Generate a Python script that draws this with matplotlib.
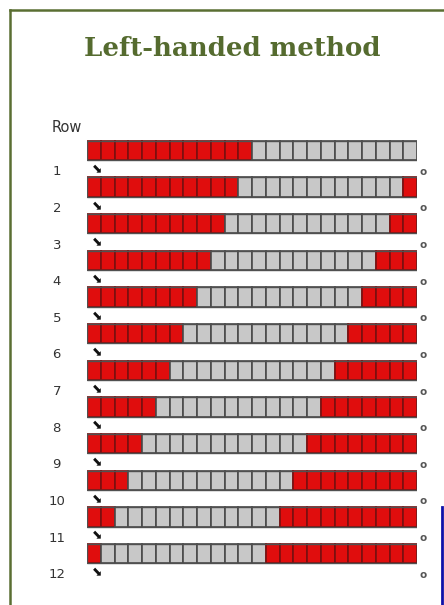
import matplotlib
matplotlib.use("Agg")
import matplotlib.pyplot as plt
from matplotlib.lines import Line2D

# ---- data ----
title = "Left-handed method"
row_numbers = [1, 2, 3, 4, 5, 6, 7, 8, 9, 10, 11, 12]
left_red = [12, 11, 10, 9, 8, 7, 6, 5, 4, 3, 2, 1]
middle_gray = [12, 12, 12, 12, 12, 12, 12, 12, 12, 12, 12, 12]
right_red = [0, 1, 2, 3, 4, 5, 6, 7, 8, 9, 10, 11]
row_header = "Row"

W, H = 444, 605
fig = plt.figure(figsize=(W / 100, H / 100), dpi=100)
fig.patch.set_facecolor("white")

def px(x0, y0, x1, y1):
    return [x0 / W, 1 - y1 / H, (x1 - x0) / W, (y1 - y0) / H]

# axes: x in cells (0..24), y in rows
ax = fig.add_axes(px(87, 132.2, 417, 571.8))
ax.set_xlim(0, 24)
ax.set_ylim(12.5, 0.5)
ax.axis("off")

RED = "#e00d0d"
RED_EDGE = "#7a1010"
GRAY = "#c8c8c8"
GRAY_EDGE = "#4a4a4a"
BAR_H = 0.53

for r, nl, ng, nr in zip(row_numbers, left_red, middle_gray, right_red):
    cells = ["r"] * nl + ["g"] * ng + ["r"] * nr
    xs = list(range(len(cells)))
    cols = [RED if c == "r" else GRAY for c in cells]
    eds = [RED_EDGE if c == "r" else GRAY_EDGE for c in cells]
    ax.bar(xs, [BAR_H] * len(xs), width=1.0, bottom=r - BAR_H / 2,
           align="edge", color=cols, edgecolor=eds, linewidth=1.2)
    ax.bar([0], [BAR_H], width=len(cells), bottom=r - BAR_H / 2, align="edge",
           color="none", edgecolor="#505050", linewidth=1.0)
    ax.text(-2.2, r + 0.58, str(r), ha="center", va="center", fontsize=9.5,
            color="#333333", family="DejaVu Sans")
    ax.text(0.75, r + 0.5, "\u2b0a", ha="center", va="center", fontsize=9,
            color="#111111", family="DejaVu Sans")
    ax.text(24.45, r + 0.58, "o", ha="center", va="center", fontsize=7.5,
            color="#555555", fontweight="bold", family="DejaVu Sans")

ax.text(-2.55, 0.5 - 0.13, row_header, ha="left", va="center", fontsize=10.5,
        color="#333333", family="DejaVu Sans")

# title
fig.text(232 / W, 1 - 48 / H, title, ha="center", va="center", fontsize=18.7,
         fontweight="heavy", color="#556b2f", family="DejaVu Serif")

# olive border (left and top)
OLIVE = "#5a6e32"
fig.add_artist(Line2D([9.5 / W, 9.5 / W], [0, 1 - 9.5 / H], color=OLIVE,
                      linewidth=1.8, transform=fig.transFigure))
fig.add_artist(Line2D([9.5 / W, 1], [1 - 9.5 / H, 1 - 9.5 / H], color=OLIVE,
                      linewidth=1.8, transform=fig.transFigure))
# blue partial box edge at bottom right
fig.add_artist(Line2D([442 / W, 442 / W], [0, 1 - 507 / H], color="#1010a8",
                      linewidth=2.0, transform=fig.transFigure))

fig.savefig("out.png", dpi=100, facecolor="white")
